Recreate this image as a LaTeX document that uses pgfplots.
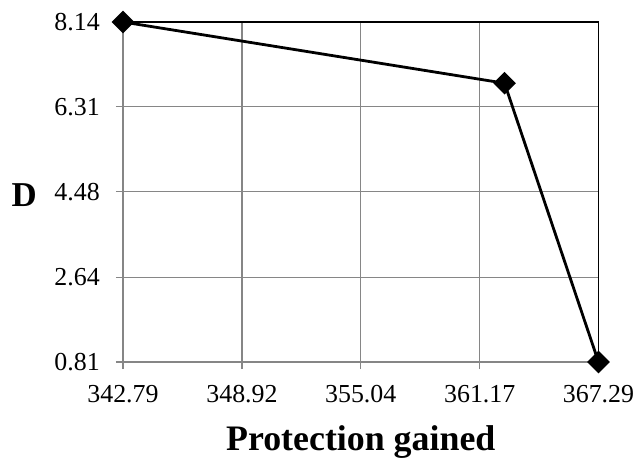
\documentclass[border=0pt]{standalone}
\usepackage{pgfplots}
\pgfplotsset{compat=1.18}
\usepackage{fontspec}
\setmainfont{Liberation Serif}
\usetikzlibrary{calc}
\definecolor{gridgray}{RGB}{134,134,134}
\begin{document}
\begin{tikzpicture}
\begin{axis}[
  scale only axis,
  width=475.5bp, height=340bp,
  xmin=342.79, xmax=367.29,
  ymin=0.81, ymax=8.14,
  xtick={342.79,348.92,355.04,361.17,367.29},
  ytick={0.81,2.64,4.48,6.31,8.14},
  xticklabels={342.79,348.92,355.04,361.17,367.29},
  yticklabels={0.81,2.64,4.48,6.31,8.14},
  grid=major,
  grid style={gridgray, line width=1.2bp},
  axis line style={gridgray, line width=1.2bp},
  tick style={gridgray, line width=1.2bp},
  tick align=outside,
  major tick length=7bp,
  xtick pos=bottom, ytick pos=left,
  tick label style={font=\fontsize{26}{30}\selectfont, inner sep=0pt},
  xticklabel style={yshift=-16bp},
  yticklabel style={xshift=-16bp},
  /pgf/number format/assume math mode=true,
  xlabel={Protection gained},
  ylabel={D},
  xlabel style={font=\bfseries\fontsize{36}{40}\selectfont, inner sep=0pt, at={(axis description cs:0.5,0)}, anchor=base, yshift=-88bp},
  ylabel style={font=\bfseries\fontsize{35}{40}\selectfont, inner sep=0pt, rotate=-90, at={(axis description cs:0,0.49)}, anchor=east, xshift=-86bp},
  clip=false,
]
\addplot[black, line width=2.8bp, mark=square*, mark size=6.6bp, mark options={rotate=45, solid, fill=black}] coordinates {
  (342.79,8.14) (362.45,6.82) (367.29,0.81)
};
\draw[black, line width=1.3bp] (rel axis cs:0,1) -- (rel axis cs:1,1) -- (rel axis cs:1,0);
\coordinate (bl) at (rel axis cs:0,0);
\end{axis}
\pgfresetboundingbox
\path[use as bounding box] ($(bl)+(-123bp,-101bp)$) rectangle ($(bl)+(518bp,362bp)$);
\end{tikzpicture}
\end{document}
